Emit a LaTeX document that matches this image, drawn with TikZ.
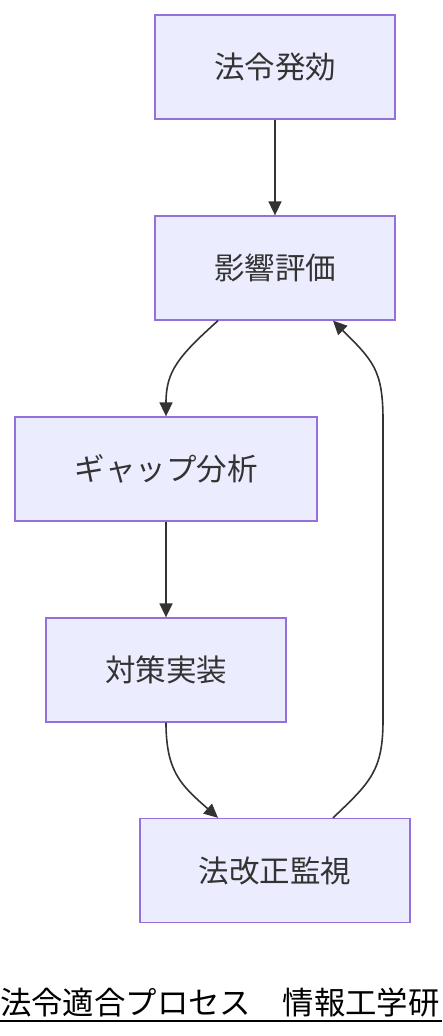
\documentclass[tikz,border=0pt]{standalone}
\usepackage{fontspec}
\setmainfont{Noto Sans CJK JP}
\usetikzlibrary{arrows.meta,calc}
\definecolor{boxfill}{HTML}{ECECFF}
\definecolor{boxline}{HTML}{9370DB}
\definecolor{txt}{HTML}{333333}
\begin{document}
\begin{tikzpicture}[x=1pt,y=-1pt,
  procbox/.style={draw=boxline,fill=boxfill,line width=1.3pt,minimum height=104pt,
    text=txt,font=\fontsize{30.5}{34}\selectfont,inner sep=0pt},
  conn/.style={draw=txt,line width=1.6pt,-{Triangle[length=14pt,width=13pt]}}]
\useasboundingbox (0,0) rectangle (442,1036);
\node[procbox,minimum width=240pt] (n1) at (275,67) {法令発効};
\node[procbox,minimum width=240pt] (n2) at (275,268) {影響評価};
\node[procbox,minimum width=302pt] (n3) at (166,469) {ギャップ分析};
\node[procbox,minimum width=240pt] (n4) at (166,670) {対策実装};
\node[procbox,minimum width=270pt] (n5) at (275,870.5) {法改正監視};
\coordinate (a2) at ($(n2.south)+(-57,0)$);
\coordinate (b2) at ($(n2.south)+(58,0)$);
\coordinate (a5) at ($(n5.north)+(-57,0)$);
\coordinate (b5) at ($(n5.north)+(58,0)$);
\draw[conn] (n1.south) -- (n2.north);
\draw[conn] (a2) .. controls +(-40,36) and +(0,-45) .. (n3.north);
\draw[conn] (n3.south) -- (n4.north);
\draw[conn] (n4.south) .. controls +(0,50) and +(-36,-32) .. (a5);
\draw[conn] (b5) .. controls +(38,-36) and +(0,50) .. (383,720) -- (383,420) .. controls +(0,-50) and +(40,40) .. (b2);
\node[anchor=base west,inner sep=0pt,text=black,font=\fontsize{31.4}{34}\selectfont] (cap) at (0,1014) {法令適合プロセス　情報工学研};
\draw[line width=1.4pt,black] (0,1021) -- (442,1021);
\end{tikzpicture}
\end{document}
